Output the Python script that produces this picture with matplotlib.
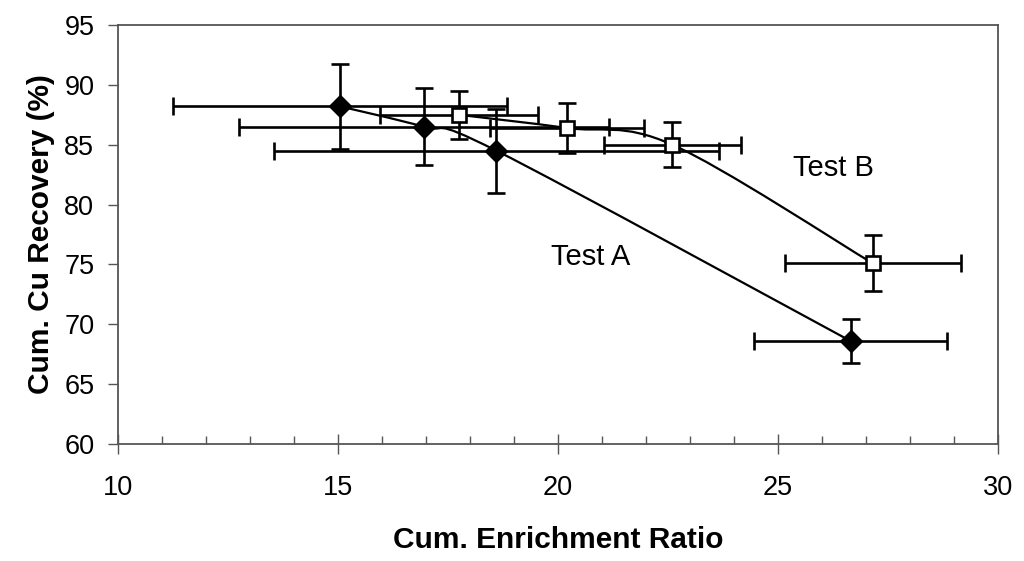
import matplotlib.pyplot as plt
import numpy as np
from matplotlib.path import Path
from matplotlib.patches import PathPatch
from matplotlib.ticker import MultipleLocator

plt.rcParams['font.family'] = ['Liberation Sans', 'DejaVu Sans']

# Test A (filled diamonds)
a_x = [15.05, 16.95, 18.6, 26.65]
a_y = [88.2, 86.5, 84.5, 68.6]
a_xerr = [3.8, 4.2, 5.05, 2.2]
a_yerr = [3.55, 3.2, 3.5, 1.8]

# Test B (open squares)
b_x = [17.75, 20.2, 22.6, 27.15]
b_y = [87.5, 86.4, 85.0, 75.1]
b_xerr = [1.8, 1.75, 1.55, 2.0]
b_yerr = [2.0, 2.05, 1.9, 2.35]


def smooth_path(xs, ys):
    # Catmull-Rom style bezier through the points (like a spreadsheet smoothed line)
    p = np.column_stack([xs, ys]).astype(float)
    n = len(p)
    verts = [p[0]]
    codes = [Path.MOVETO]
    for i in range(n - 1):
        p0 = p[i - 1] if i > 0 else p[i]
        p3 = p[i + 2] if i + 2 < n else p[i + 1]
        c1 = p[i] + (p[i + 1] - p0) / 6.0
        c2 = p[i + 1] - (p3 - p[i]) / 6.0
        verts += [c1, c2, p[i + 1]]
        codes += [Path.CURVE4] * 3
    return Path(verts, codes)


fig = plt.figure(figsize=(10.24, 5.61), dpi=100)
ax = fig.add_axes([0.1152, 0.2086, 0.8594, 0.7468])

for xs, ys in [(a_x, a_y), (b_x, b_y)]:
    ax.add_patch(PathPatch(smooth_path(xs, ys), facecolor='none', edgecolor='black',
                           lw=1.6, zorder=2))

ax.errorbar(a_x, a_y, xerr=a_xerr, yerr=a_yerr, fmt='none', ecolor='black',
            elinewidth=1.9, capsize=6.5, capthick=1.9, zorder=3)
ax.errorbar(b_x, b_y, xerr=b_xerr, yerr=b_yerr, fmt='none', ecolor='black',
            elinewidth=1.9, capsize=6.5, capthick=1.9, zorder=3)

ax.plot(a_x, a_y, linestyle='none', marker='D', ms=11, color='black', zorder=4)
ax.plot(b_x, b_y, linestyle='none', marker='s', ms=10.5, mfc='white', mec='black',
        mew=1.9, zorder=4)

ax.text(20.74, 75.6, 'Test A', fontsize=21, ha='center', va='center')
ax.text(26.27, 83.05, 'Test B', fontsize=21, ha='center', va='center')

ax.set_xlim(10, 30)
ax.set_ylim(60, 95)
ax.xaxis.set_major_locator(MultipleLocator(5))
ax.xaxis.set_minor_locator(MultipleLocator(1))
ax.yaxis.set_major_locator(MultipleLocator(5))

for s in ax.spines.values():
    s.set_color('#555555')
    s.set_linewidth(1.3)

ax.tick_params(axis='x', which='major', direction='inout', length=14, width=1,
               color='#555555', labelsize=19.5, pad=15)
ax.tick_params(axis='x', which='minor', direction='in', length=5.5, width=1,
               color='#555555')
ax.tick_params(axis='y', which='major', direction='out', length=7, width=1,
               color='#555555', labelsize=19.5, pad=10)

ax.set_xlabel('Cum. Enrichment Ratio', fontsize=21.5, fontweight='bold', labelpad=18)
ax.set_ylabel('Cum. Cu Recovery (%)', fontsize=21.5, fontweight='bold', labelpad=7)

fig.savefig('out.png', dpi=100)
